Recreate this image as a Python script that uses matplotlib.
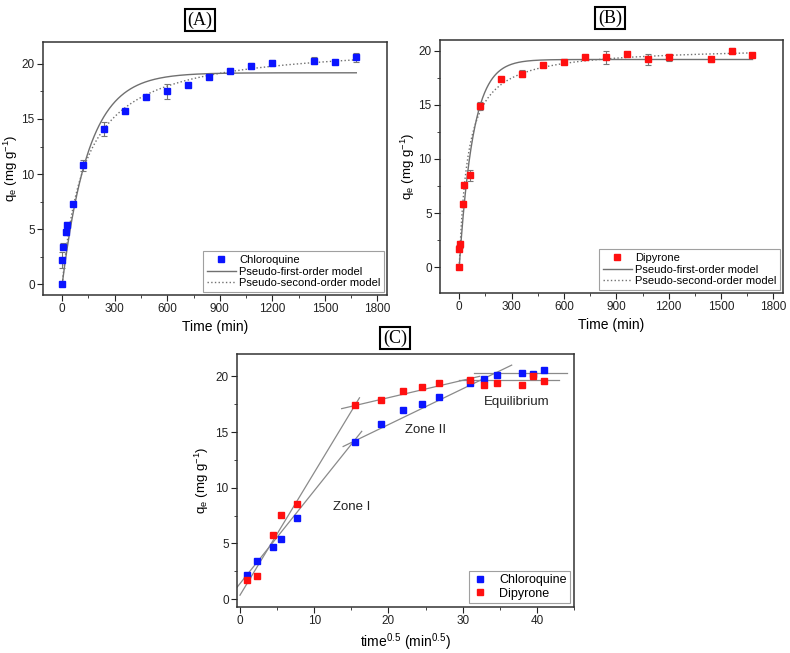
import numpy as np
import matplotlib
matplotlib.use("Agg")
import matplotlib.pyplot as plt
from matplotlib.ticker import MultipleLocator

plt.rcParams["font.family"] = ["Liberation Sans", "DejaVu Sans"]
plt.rcParams["mathtext.default"] = "regular"

# contact times (min)
times = [0, 1, 5, 20, 30, 60, 120, 240, 360, 480, 600, 720, 840, 960, 1080, 1200, 1440, 1560, 1680]

# chloroquine uptake (mg/g) and error
chloro_q = [0, 2.2, 3.4, 4.7, 5.4, 7.3, 10.8, 14.1, 15.7, 17.0, 17.5, 18.1, 18.8, 19.4, 19.8, 20.1, 20.3, 20.2, 20.6]
chloro_err = [0.1, 0.7, 0.3, 0.2, 0.2, 0.1, 0.5, 0.6, 0.2, 0.2, 0.7, 0.2, 0.2, 0.2, 0.3, 0.3, 0.3, 0.2, 0.4]

# dipyrone uptake (mg/g) and error
dipy_q = [0, 1.7, 2.1, 5.8, 7.6, 8.5, 14.9, 17.4, 17.9, 18.7, 19.0, 19.4, 19.4, 19.7, 19.2, 19.4, 19.2, 20.0, 19.6]
dipy_err = [0.1, 0.3, 0.3, 0.2, 0.2, 0.5, 0.4, 0.2, 0.3, 0.2, 0.2, 0.2, 0.6, 0.2, 0.5, 0.3, 0.2, 0.3, 0.2]

# fitted kinetic parameters: (qe, k)
chloro_pfo = (19.2, 0.0066)
chloro_pso = (22.0, 0.00034)
dipy_pfo = (19.2, 0.0126)
dipy_pso = (20.4, 0.00098)

# times left out of the intraparticle diffusion plot
ipd_skip = [0, 120, 840]

# intraparticle diffusion fit segments: (x start, x end, intercept, slope)
chloro_segments = [(-0.4, 16.4, 1.4, 0.833), (13.9, 36.6, 9.23, 0.3216), (31.5, 44.0, 20.3, 0.0)]
dipy_segments = [(0.0, 16.1, 0.36, 1.10), (13.7, 32.3, 14.96, 0.156), (29.5, 43.0, 19.65, 0.0)]

zone_labels = ["Zone I", "Zone II", "Equilibrium"]
zone_label_pos = [(15.0, 8.3), (25.0, 15.2), (37.3, 17.7)]

BLUE = "#0a14ff"
RED = "#ff1010"
LINE = "#707070"


def pfo(t, qe, k):
    return qe * (1 - np.exp(-k * t))


def pso(t, qe, k):
    return qe * qe * k * t / (1 + qe * k * t)


def style_axes(ax, xmajor, xminor, ymajor, yminor, ylab_x):
    ax.xaxis.set_major_locator(MultipleLocator(xmajor))
    ax.xaxis.set_minor_locator(MultipleLocator(xminor))
    ax.yaxis.set_major_locator(MultipleLocator(ymajor))
    ax.yaxis.set_minor_locator(MultipleLocator(yminor))
    ax.tick_params(which="both", direction="out", top=False, right=False, labelsize=8.5, colors="#222222")
    ax.tick_params(which="major", length=4, pad=2)
    ax.tick_params(which="minor", length=2.5)
    for s in ax.spines.values():
        s.set_linewidth(1.1)
        s.set_color("#333333")
    ax.set_ylabel("q$_e$ (mg g$^{-1}$)", fontsize=9.5)
    ax.yaxis.set_label_coords(ylab_x, 0.5)


def kinetic_panel(ax, q, err, color, name, p1, p2, ylab_x):
    t = np.array(times, dtype=float)
    ax.errorbar(t, q, yerr=err, fmt="none", ecolor="#777777", elinewidth=0.8, capsize=2.5, capthick=0.8, zorder=2)
    ax.plot(t, q, "s", color=color, markersize=5, label=name, zorder=3)
    tt = np.linspace(0, max(times), 600)
    ax.plot(tt, pfo(tt, *p1), "-", color=LINE, lw=1.0, label="Pseudo-first-order model", zorder=1)
    ax.plot(tt, pso(tt, *p2), ":", color=LINE, lw=1.0, label="Pseudo-second-order model", zorder=1)
    ax.set_xlim(-110, 1855)
    style_axes(ax, 300, 150, 5, 2.5, ylab_x)
    ax.set_xlabel("Time (min)", fontsize=10, labelpad=3)
    leg = ax.legend(loc="lower right", fontsize=8, frameon=True, fancybox=False, handlelength=2.6,
                    borderpad=0.35, labelspacing=0.15, handletextpad=0.3, borderaxespad=0.25)
    leg.get_frame().set_edgecolor("#888888")
    leg.get_frame().set_linewidth(0.8)


fig = plt.figure(figsize=(7.9, 6.53), dpi=100)

axA = fig.add_axes([0.0544, 0.5482, 0.4354, 0.3875])
kinetic_panel(axA, chloro_q, chloro_err, BLUE, "Chloroquine", chloro_pfo, chloro_pso, -0.068)
axA.set_ylim(-1, 22)

axB = fig.add_axes([0.557, 0.5513, 0.4342, 0.3874])
kinetic_panel(axB, dipy_q, dipy_err, RED, "Dipyrone", dipy_pfo, dipy_pso, -0.068)
axB.set_ylim(-2.4, 21)

axC = fig.add_axes([0.30, 0.0704, 0.4266, 0.3875])
keep = [i for i, t in enumerate(times) if t not in ipd_skip]
root_t = np.sqrt([times[i] for i in keep])
for segs in (chloro_segments, dipy_segments):
    for x0, x1, b, m in segs:
        xs = np.array([x0, x1])
        axC.plot(xs, b + m * xs, "-", color="#8a8a8a", lw=0.9, zorder=1)
axC.plot(root_t, [chloro_q[i] for i in keep], "s", color=BLUE, markersize=5, label="Chloroquine", zorder=3)
axC.plot(root_t, [dipy_q[i] for i in keep], "s", color=RED, markersize=5, label="Dipyrone", zorder=3)
for txt, (x, y) in zip(zone_labels, zone_label_pos):
    axC.text(x, y, txt, fontsize=9.5, ha="center", va="center", color="#222222")
axC.set_xlim(-0.4, 45)
axC.set_ylim(-0.7, 22)
style_axes(axC, 10, 5, 5, 2.5, -0.078)
axC.set_xlabel("time$^{0.5}$ (min$^{0.5}$)", fontsize=10, labelpad=3)
leg = axC.legend(loc="lower right", fontsize=9, frameon=True, fancybox=False, handlelength=1.2,
                 borderpad=0.3, labelspacing=0.1, handletextpad=0.9, borderaxespad=0.3)
leg.get_frame().set_edgecolor("#888888")
leg.get_frame().set_linewidth(0.8)

# panel letters in boxes
for label, (x, y) in zip(["(A)", "(B)", "(C)"], [(200, 20), (610, 18), (395, 338)]):
    fig.text(x / 790, 1 - y / 653, label, fontsize=13, family=["Liberation Serif", "DejaVu Serif"],
             ha="center", va="center",
             bbox=dict(boxstyle="square,pad=0.15", facecolor="white", edgecolor="black", linewidth=1.5))

fig.savefig("out.png", dpi=100)
